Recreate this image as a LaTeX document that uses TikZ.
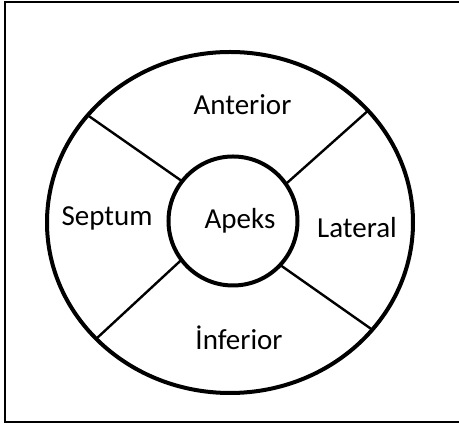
\documentclass[tikz,border=0pt]{standalone}
\usepackage{fontspec}
\setmainfont{Carlito}
\usetikzlibrary{shapes.geometric}
\begin{document}
\begin{tikzpicture}[x=1pt,y=1pt,
  ring/.style={draw=black,line width=4pt,inner sep=0pt,outer sep=0pt},
  divider/.style={draw=black,line width=2.4pt},
  lbl/.style={anchor=base,inner sep=0pt,font=\fontsize{29}{34}\selectfont}]
\useasboundingbox (0,0) rectangle (459,425);
\begin{scope}
\clip (0,0) rectangle (459,425);
\draw[line width=2pt] (5.3,423.2) rectangle (475,2.5);
\end{scope}
\node[ring,ellipse,minimum width=366pt,minimum height=341pt] (outer) at (230,202.5) {};
\node[ring,circle,minimum size=129pt] (apex) at (233,204) {};
\draw[divider] (apex.142.6) -- (outer.143.3);
\draw[divider] (apex.35.8) -- (outer.39.9);
\draw[divider] (apex.217.4) -- (outer.221.2);
\draw[divider] (apex.317) -- (outer.323.4);
\node[lbl] (ant) at (242.5,310) {Anterior};
\node[lbl] (sep) at (107,199) {Septum};
\node[lbl] (apk) at (240,196) {Apeks};
\node[lbl] (lat) at (357,187) {Lateral};
\node[lbl] (inf) at (239,75) {İnferior};
\end{tikzpicture}
\end{document}
